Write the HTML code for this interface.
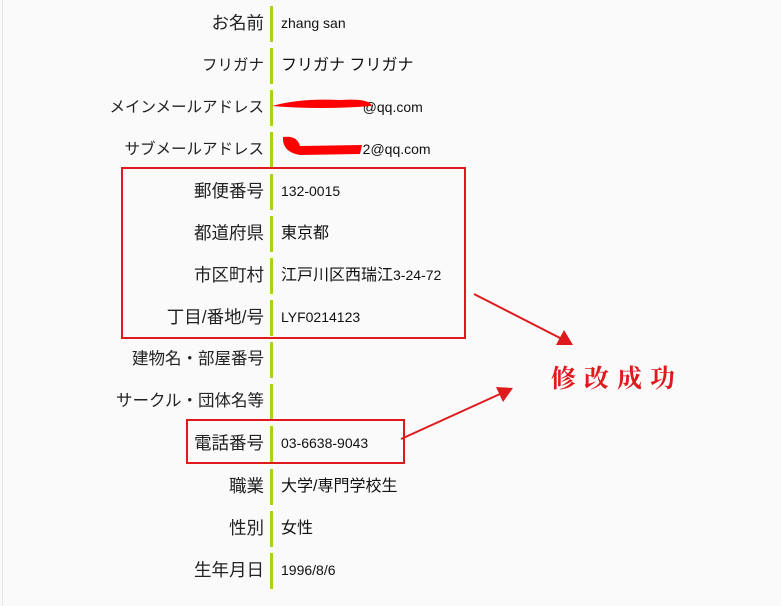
<!DOCTYPE html>
<html><head><meta charset="utf-8"><style>
body{margin:0;width:781px;height:606px;background:#fafafa;position:relative;overflow:hidden;font-family:"Liberation Sans","Noto Sans CJK JP",sans-serif;}
.edge{position:absolute;left:2px;top:0;width:1px;height:606px;background:#e6e6e6}
.row{position:absolute;left:0;width:781px;height:36px}
.l{position:absolute;right:517px;top:7px;font-size:15.5px;color:#222;white-space:nowrap;line-height:22px}
.l.k{font-size:17.5px;top:6px}
.l.m{font-size:16.5px;top:6px}
.bar{position:absolute;left:270px;top:0;width:3px;height:36px;background:#a8d418}
.v{position:absolute;left:281px;top:8px;font-size:14px;color:#111;white-space:nowrap;line-height:18px}
.j{font-size:16px}
.box{position:absolute;border:2px solid #e0191d}
</style></head><body>
<div class="edge"></div>
<div class="row" style="top:6px"><span class="l k">お名前</span><i class="bar"></i><span class="v">zhang san</span></div>
<div class="row" style="top:48px"><span class="l">フリガナ</span><i class="bar"></i><span class="v"><span class="j">フリガナ フリガナ</span></span></div>
<div class="row" style="top:90px"><span class="l">メインメールアドレス</span><i class="bar"></i><span class="v">&nbsp;&nbsp;&nbsp;&nbsp;&nbsp;&nbsp;&nbsp;&nbsp;&nbsp;&nbsp;&nbsp;&nbsp;&nbsp;&nbsp;&nbsp;&nbsp;&nbsp;&nbsp;&nbsp;&nbsp;&nbsp;@qq.com</span></div>
<div class="row" style="top:132px"><span class="l">サブメールアドレス</span><i class="bar"></i><span class="v">&nbsp;&nbsp;&nbsp;&nbsp;&nbsp;&nbsp;&nbsp;&nbsp;&nbsp;&nbsp;&nbsp;&nbsp;&nbsp;&nbsp;&nbsp;&nbsp;&nbsp;&nbsp;&nbsp;&nbsp;&nbsp;2@qq.com</span></div>
<div class="row" style="top:174px"><span class="l k">郵便番号</span><i class="bar"></i><span class="v">132-0015</span></div>
<div class="row" style="top:216px"><span class="l k">都道府県</span><i class="bar"></i><span class="v"><span class="j">東京都</span></span></div>
<div class="row" style="top:258px"><span class="l k">市区町村</span><i class="bar"></i><span class="v"><span class="j">江戸川区西瑞江</span>3-24-72</span></div>
<div class="row" style="top:300px"><span class="l k">丁目/番地/号</span><i class="bar"></i><span class="v">LYF0214123</span></div>
<div class="row" style="top:342px"><span class="l m">建物名・部屋番号</span><i class="bar"></i></div>
<div class="row" style="top:384px"><span class="l m">サークル・団体名等</span><i class="bar"></i></div>
<div class="row" style="top:426px"><span class="l k">電話番号</span><i class="bar"></i><span class="v">03-6638-9043</span></div>
<div class="row" style="top:469px"><span class="l k">職業</span><i class="bar"></i><span class="v"><span class="j">大学/専門学校生</span></span></div>
<div class="row" style="top:511px"><span class="l k">性別</span><i class="bar"></i><span class="v"><span class="j">女性</span></span></div>
<div class="row" style="top:553px"><span class="l k">生年月日</span><i class="bar"></i><span class="v">1996/8/6</span></div>
<div class="box" style="left:121px;top:167px;width:341px;height:168px"></div>
<div class="box" style="left:186px;top:419px;width:215px;height:41px"></div>
<svg style="position:absolute;left:0;top:0" width="781" height="606">
<path d="M272 106 Q300 98 340 100 Q370 98 372 106 Q320 110 272 106Z" fill="#f00"/>
<path d="M283 137 Q282 152 300 155 L360 154 L362 145 L300 146 Q297 135 283 137Z" fill="#f00"/>
<line x1="474" y1="294" x2="560" y2="338" stroke="#e0191d" stroke-width="2"/>
<polygon points="573,345 556,345 564,330" fill="#e0191d"/>
<line x1="401" y1="439" x2="500" y2="394" stroke="#e0191d" stroke-width="2"/>
<polygon points="513,388 503,402 496,387" fill="#e0191d"/>
<text x="551" y="387" font-size="25" fill="#e0191d" font-weight="bold" font-family="'Noto Serif CJK SC',serif" letter-spacing="8">修改成功</text>
</svg>
</body></html>
